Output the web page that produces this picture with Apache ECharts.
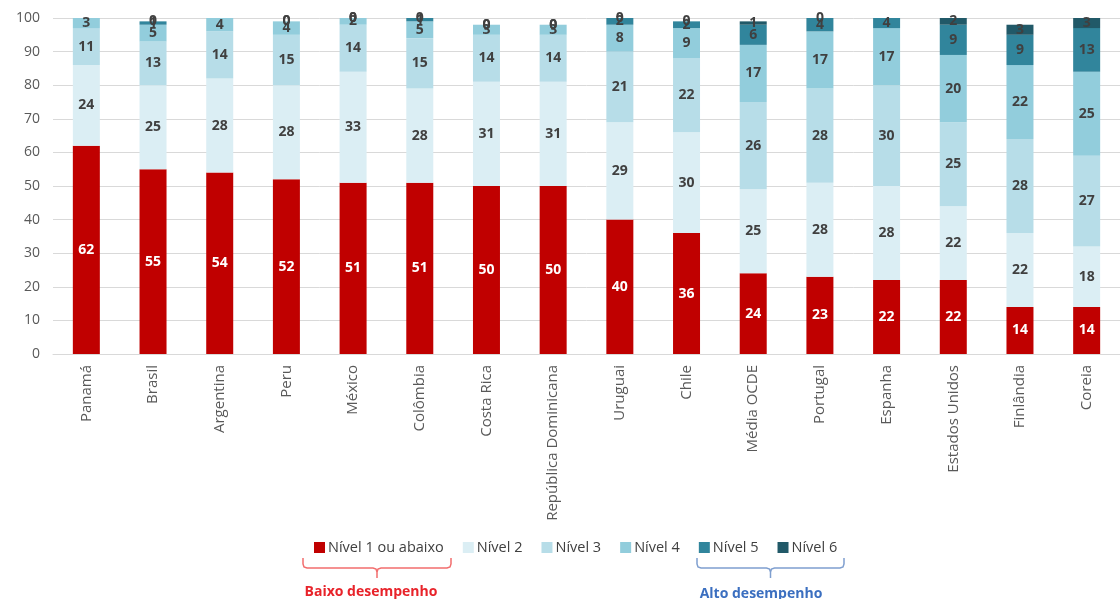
<!DOCTYPE html>
<html>
<head>
<meta charset="utf-8">
<script src="https://cdn.jsdelivr.net/npm/echarts@6/dist/echarts.min.js"></script>
<style>
  html, body { margin: 0; padding: 0; background: #ffffff; }
  #chart { width: 1120px; height: 599px; }
</style>
</head>
<body>
<div id="chart"></div>
<script>
// Distribuição dos estudantes por nível de proficiência (%)
const categories = ['Panamá', 'Brasil', 'Argentina', 'Peru', 'México', 'Colômbia', 'Costa Rica',
  'República Dominicana', 'Uruguai', 'Chile', 'Média OCDE', 'Portugal', 'Espanha',
  'Estados Unidos', 'Finlândia', 'Coreia'];

const nivel1 = [62, 55, 54, 52, 51, 51, 50, 50, 40, 36, 24, 23, 22, 22, 14, 14];
const nivel2 = [24, 25, 28, 28, 33, 28, 31, 31, 29, 30, 25, 28, 28, 22, 22, 18];
const nivel3 = [11, 13, 14, 15, 14, 15, 14, 14, 21, 22, 26, 28, 30, 25, 28, 27];
const nivel4 = [3, 5, 4, 4, 2, 5, 3, 3, 8, 9, 17, 17, 17, 20, 22, 25];
const nivel5 = [null, 1, null, 0, 0, 1, 0, 0, 2, 2, 6, 4, 4, 9, 9, 13];
const nivel6 = [null, 0, null, 0, 0, 0, 0, 0, 0, 0, 1, 0, null, 2, 3, 3];

const seriesNames = ['Nível 1 ou abaixo', 'Nível 2', 'Nível 3', 'Nível 4', 'Nível 5', 'Nível 6'];
const seriesData = [nivel1, nivel2, nivel3, nivel4, nivel5, nivel6];
const seriesColors = ['#c00000', '#dbeef4', '#b7dde8', '#92cddc', '#31859c', '#215968'];
const labelColors = ['#ffffff', '#404040', '#404040', '#404040', '#404040', '#404040'];

const yTicks = { min: 0, max: 100, interval: 10 };

const FONT = '"Open Sans", "Noto Sans", sans-serif';

const chart = echarts.init(document.getElementById('chart'), null, { renderer: 'canvas' });

const series = seriesNames.map((name, i) => ({
  name: name,
  type: 'bar',
  stack: 'total',
  barWidth: 27,
  data: seriesData[i],
  itemStyle: { color: seriesColors[i] },
  label: {
    show: true,
    position: 'inside',
    color: labelColors[i],
    fontFamily: FONT,
    fontSize: 14,
    fontWeight: 'bold'
  },
  emphasis: { disabled: true }
}));

// brace drawn under a group of legend entries
function brace(x0, x1, y, color) {
  const mid = (x0 + x1) / 2;
  return {
    type: 'polyline',
    silent: true,
    shape: {
      points: [
        [x0, y - 10], [x0, y - 4], [x0 + 1, y - 1], [x0 + 4, y],
        [mid - 4, y], [mid - 1, y + 1], [mid, y + 4], [mid, y + 10],
        [mid, y + 4], [mid + 1, y + 1], [mid + 4, y],
        [x1 - 4, y], [x1 - 1, y - 1], [x1, y - 4], [x1, y - 10]
      ]
    },
    style: { stroke: color, lineWidth: 1.5, fill: null }
  };
}

chart.setOption({
  animation: false,
  backgroundColor: '#ffffff',
  grid: { left: 53, right: 0, top: 18, bottom: 245, containLabel: false },
  legend: {
    data: seriesNames,
    left: 309,
    top: 535,
    itemWidth: 11,
    itemHeight: 11,
    itemGap: 19,
    icon: 'rect',
    textStyle: { fontFamily: FONT, fontSize: 14.5, color: '#404040', padding: [0, 0, 0, -2] },
    selectedMode: false
  },
  xAxis: {
    type: 'category',
    data: categories,
    axisLine: { lineStyle: { color: '#d9d9d9', width: 1 } },
    axisTick: { show: false },
    axisLabel: {
      rotate: 90,
      interval: 0,
      margin: 11,
      fontFamily: FONT,
      fontSize: 15,
      color: '#595959'
    }
  },
  yAxis: {
    type: 'value',
    min: yTicks.min,
    max: yTicks.max,
    interval: yTicks.interval,
    axisLine: { show: false },
    axisTick: { show: false },
    axisLabel: { margin: 13, fontFamily: FONT, fontSize: 14, color: '#595959' },
    splitLine: { lineStyle: { color: '#d9d9d9', width: 1 } }
  },
  series: series,
  graphic: [
    brace(303, 451, 568, '#f26d6d'),
    brace(697, 844, 568, '#7f9fcf'),
    {
      type: 'text',
      silent: true,
      x: 371, y: 592,
      style: {
        text: 'Baixo desempenho',
        fill: '#e8232a',
        font: 'bold 14px ' + FONT,
        align: 'center',
        verticalAlign: 'middle'
      }
    },
    {
      type: 'text',
      silent: true,
      x: 761, y: 594,
      style: {
        text: 'Alto desempenho',
        fill: '#3b6fc0',
        font: 'bold 14px ' + FONT,
        align: 'center',
        verticalAlign: 'middle'
      }
    }
  ]
});
</script>
</body>
</html>
